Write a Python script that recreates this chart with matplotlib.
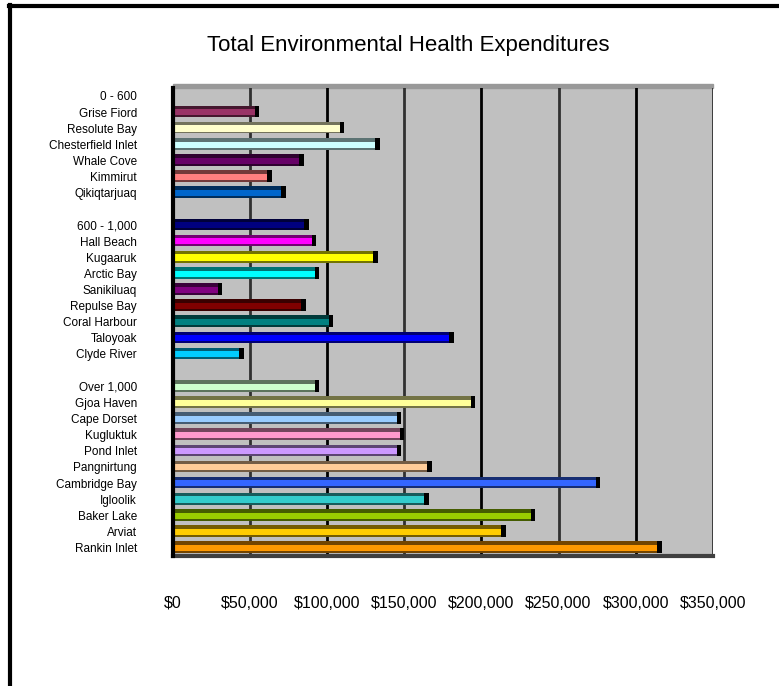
import matplotlib
matplotlib.use("Agg")
import matplotlib.pyplot as plt
import matplotlib.colors as mcolors
from matplotlib.patches import Rectangle
import numpy as np

plt.rcParams['font.family'] = ['Liberation Sans', 'DejaVu Sans']

# rows from top to bottom, '' = empty spacer row
communities = ['0 - 600', 'Grise Fiord', 'Resolute Bay', 'Chesterfield Inlet', 'Whale Cove',
               'Kimmirut', 'Qikiqtarjuaq', '',
               '600 - 1,000', 'Hall Beach', 'Kugaaruk', 'Arctic Bay', 'Sanikiluaq',
               'Repulse Bay', 'Coral Harbour', 'Taloyoak', 'Clyde River', '',
               'Over 1,000', 'Gjoa Haven', 'Cape Dorset', 'Kugluktuk', 'Pond Inlet',
               'Pangnirtung', 'Cambridge Bay', 'Igloolik', 'Baker Lake', 'Arviat', 'Rankin Inlet']
expenditures = [0, 56000, 111000, 134000, 85000, 64000, 73000, 0,
                88000, 93000, 133000, 95000, 32000, 86000, 104000, 182000, 46000, 0,
                95000, 196000, 148000, 150000, 148000, 168000, 277000, 166000, 235000, 216000, 317000]
bar_colors = ['#993366', '#993366', '#FFFFCC', '#CCFFFF', '#660066', '#FF8080', '#0066CC', '#C0C0C0',
              '#000080', '#FF00FF', '#FFFF00', '#00FFFF', '#800080', '#800000', '#008080', '#0000FF',
              '#00CCFF', '#C0C0C0',
              '#CCFFCC', '#FFFF99', '#99CCFF', '#FF99CC', '#CC99FF', '#FFCC99', '#3366FF', '#33CCCC',
              '#99CC00', '#FFCC00', '#FF9900']
xticks = [0, 50000, 100000, 150000, 200000, 250000, 300000, 350000]
xtick_labels = ['$0', '$50,000', '$100,000', '$150,000', '$200,000', '$250,000', '$300,000', '$350,000']


def shade(c, f):
    r, g, b = mcolors.to_rgb(c)
    return (r * f, g * f, b * f)


fig = plt.figure(figsize=(7.79, 6.86), dpi=100)
ax = fig.add_axes([0.222, 0.19, 0.693, 0.682])
ax.set_facecolor('#C0C0C0')

y = np.arange(len(communities))
for i, (v, c) in enumerate(zip(expenditures, bar_colors)):
    if v <= 0:
        continue
    # 3d-ish bar: dark top/bottom faces, coloured front, black end cap
    ax.barh(i - 0.03, v, height=0.72, color=shade(c, 0.45), zorder=3)
    ax.barh(i + 0.02, v, height=0.38, color=c, zorder=4)
    ax.barh(i - 0.03, 3000, left=v - 3000, height=0.72, color='black', zorder=5)

ax.set_xlim(0, 350000)
ax.set_ylim(len(communities) - 0.5, -0.5)
ax.set_xticks(xticks)
ax.set_xticklabels(xtick_labels, fontsize=11.5)
ax.set_yticks(y)
ax.set_yticklabels(communities, fontsize=8.5)
ax.tick_params(axis='x', length=0, pad=29)
ax.tick_params(axis='y', length=0, pad=26)

for i, t in enumerate(xticks):
    ax.axvline(t, color='black' if i % 2 == 0 else '#303030', lw=2, zorder=2)

for s in ['top', 'right']:
    ax.spines[s].set_visible(False)
ax.spines['left'].set_linewidth(3)
ax.spines['left'].set_zorder(6)
ax.spines['bottom'].set_color('#404040')
ax.spines['bottom'].set_linewidth(3)

# back wall top edge
ax.add_patch(Rectangle((0, 1.0), 1.0, 0.009, transform=ax.transAxes,
                       color='#999999', clip_on=False, zorder=1))

fig.text(0.524, 0.933, 'Total Environmental Health Expenditures', fontsize=16,
         ha='center', va='center')

# chart frame (left and top edges)
fig.add_artist(plt.Line2D([0.0125, 0.0125], [0, 0.992], color='black', lw=3))
fig.add_artist(plt.Line2D([0.0115, 1.0], [0.991, 0.991], color='black', lw=3))

plt.savefig('out.png')
plt.close()
